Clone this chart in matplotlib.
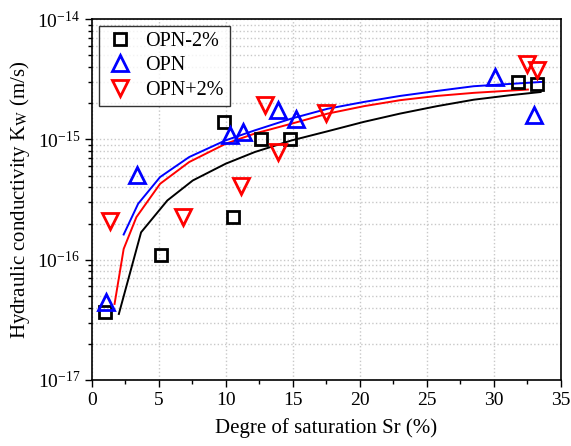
import numpy as np
import matplotlib
matplotlib.use("Agg")
import matplotlib.pyplot as plt
from matplotlib.ticker import MultipleLocator, LogLocator, NullFormatter

plt.rcParams['font.family'] = ['Liberation Serif', 'DejaVu Serif']
plt.rcParams['mathtext.fontset'] = 'stix'

# Measured points (Sr in %, Kw in m/s)
sr_m2 = [0.97, 5.15, 10.5, 9.85, 12.6, 14.8, 31.8, 33.2]
kw_m2 = [3.67e-17, 1.09e-16, 2.26e-16, 1.39e-15, 1.0e-15, 1.0e-15, 2.99e-15, 2.88e-15]

sr_opn = [1.04, 3.35, 10.3, 11.3, 13.9, 15.2, 30.1, 33.0]
kw_opn = [4.44e-17, 5.05e-16, 1.09e-15, 1.15e-15, 1.75e-15, 1.48e-15, 3.3e-15, 1.59e-15]

sr_p2 = [1.34, 6.8, 11.1, 12.9, 13.9, 17.5, 32.5, 33.2]
kw_p2 = [2.09e-16, 2.26e-16, 4.09e-16, 1.93e-15, 7.8e-16, 1.65e-15, 4.2e-15, 3.77e-15]

# Fitted curves
fit_sr_m2 = [2.01, 3.67, 5.63, 7.53, 9.98, 12.16, 14.88, 17.6, 20.3, 23.0, 25.75, 28.5, 31.2, 33.5]
fit_kw_m2 = [3.54e-17, 1.69e-16, 3.11e-16, 4.56e-16, 6.28e-16, 7.86e-16, 9.8e-16,
             1.17e-15, 1.40e-15, 1.64e-15, 1.89e-15, 2.14e-15, 2.33e-15, 2.48e-15]

fit_sr_opn = [2.37, 3.45, 5.09, 7.26, 9.98, 12.16, 14.88, 17.6, 20.3, 23.0, 25.75, 28.5, 33.6]
fit_kw_opn = [1.62e-16, 2.92e-16, 4.87e-16, 7.14e-16, 9.83e-16, 1.19e-15, 1.49e-15,
              1.80e-15, 2.05e-15, 2.30e-15, 2.53e-15, 2.77e-15, 3.01e-15]

fit_sr_p2 = [1.69, 2.37, 3.32, 5.09, 7.26, 9.98, 12.16, 14.88, 17.6, 20.3, 23.0, 25.75, 28.5, 32.55]
fit_kw_p2 = [4.29e-17, 1.23e-16, 2.26e-16, 4.28e-16, 6.49e-16, 9.2e-16, 1.12e-15,
             1.35e-15, 1.64e-15, 1.89e-15, 2.12e-15, 2.30e-15, 2.44e-15, 2.60e-15]

fig = plt.figure(figsize=(5.71, 4.46), dpi=100)
ax = fig.add_axes([0.161, 0.148, 0.821, 0.809])

ax.plot(fit_sr_m2, fit_kw_m2, color='black', lw=1.4)
ax.plot(fit_sr_opn, fit_kw_opn, color='blue', lw=1.4)
ax.plot(fit_sr_p2, fit_kw_p2, color='red', lw=1.4)

ax.plot(sr_m2, kw_m2, 's', ms=9, mfc='none', mec='black', mew=2, label='OPN-2%')
ax.plot(sr_opn, kw_opn, '^', ms=11, mfc='none', mec='blue', mew=2, label='OPN')
ax.plot(sr_p2, kw_p2, 'v', ms=11, mfc='none', mec='red', mew=2, label='OPN+2%')

ax.set_yscale('log')
ax.set_xlim(0, 35)
ax.set_ylim(1e-17, 1e-14)
ax.xaxis.set_major_locator(MultipleLocator(5))
ax.xaxis.set_minor_locator(MultipleLocator(2.5))
ax.yaxis.set_major_locator(LogLocator(base=10, numticks=10))
ax.yaxis.set_minor_locator(LogLocator(base=10, subs=np.arange(2, 10), numticks=10))
ax.yaxis.set_minor_formatter(NullFormatter())

ax.grid(True, which='major', axis='x', color='#c8c8c8', ls=':', lw=1)
ax.grid(True, which='both', axis='y', color='#c8c8c8', ls=':', lw=1)
ax.set_axisbelow(True)

ax.tick_params(which='major', direction='out', length=5, width=1, labelsize=14, top=False, right=False)
ax.tick_params(which='minor', direction='out', length=3, width=1, top=False, right=False)
for s in ax.spines.values():
    s.set_linewidth(1.2)

ax.set_xlabel('Degre of saturation Sr (%)', fontsize=15, labelpad=7)
ax.set_ylabel(r'Hydraulic conductivity K$_\mathrm{W}$ (m/s)', fontsize=15, labelpad=4)

leg = ax.legend(loc='upper left', fontsize=14.5, frameon=True, fancybox=False,
                edgecolor='black', handletextpad=0.5, borderpad=0.3,
                labelspacing=0.25, handlelength=1.5, borderaxespad=0.35)
leg.get_frame().set_linewidth(1)

fig.savefig('out.png', dpi=100)
